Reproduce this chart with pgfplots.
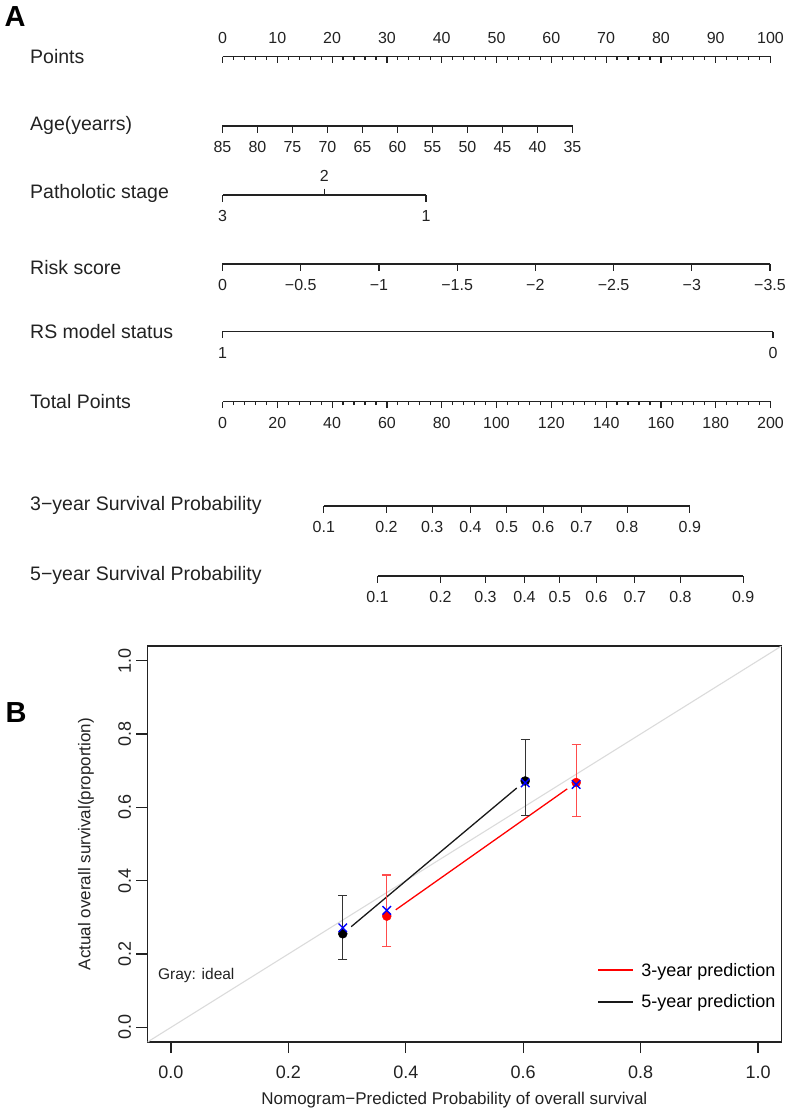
\documentclass[border=0pt]{standalone}
\usepackage{fontspec}
\setmainfont{Liberation Sans}
\usepackage{pgfplots}
\pgfplotsset{compat=1.18}

\definecolor{ink}{HTML}{222222}

\pgfplotsset{
  nomo/.style={
    scale only axis, height=2bp, ymin=0, ymax=1, clip=false,
    axis y line=none, axis x line=bottom,
    axis line style={-, ink, line width=1.3bp},
    every outer x axis line/.append style={-},
    tick style={ink, line width=1.2bp},
    tick align=outside, major tick length=6.5bp, minor tick length=3.5bp,
    xticklabel style={font=\fontsize{16bp}{19bp}\selectfont, text=ink, yshift=-5.5bp},
    anchor=south west,
  },
  nomotop/.style={
    nomo, axis x line=top, anchor=north west,
    every outer x axis line/.append style={-},
    xticklabel style={yshift=14.5bp},
  },
}

\begin{document}
\begin{tikzpicture}
\useasboundingbox (0,0) rectangle (786bp,-1112bp);
\tikzset{rowlab/.style={anchor=west, font=\fontsize{19.5bp}{22bp}\selectfont, text=ink, inner sep=0pt}}

% ---------------- panel A ----------------
\node[anchor=center, font=\fontsize{29bp}{32bp}\selectfont\bfseries] at (15bp,-17bp) {A};

\node[rowlab] at (30bp,-57bp) {Points};
\node[rowlab] at (30bp,-125bp) {Age(yearrs)};
\node[rowlab] at (30bp,-193bp) {Patholotic stage};
\node[rowlab] at (30bp,-268bp) {Risk score};
\node[rowlab] at (30bp,-332bp) {RS model status};
\node[rowlab] at (30bp,-402bp) {Total Points};
\node[rowlab] at (30bp,-505bp) {3−year Survival Probability};
\node[rowlab] at (30bp,-575bp) {5−year Survival Probability};

% Points
\begin{axis}[nomotop, at={(222.5bp,-56.5bp)}, width=548bp,
  xmin=0, xmax=100, tick align=inside,
  xtick={0,10,...,100}, xticklabels={0,10,20,30,40,50,60,70,80,90,100},
  minor xtick={0,2,...,100}]
\end{axis}

% Age
\begin{axis}[nomo, at={(222.5bp,-126bp)}, width=350bp,
  xmin=35, xmax=85, x dir=reverse,
  xtick={35,40,...,85}, xticklabels={35,40,45,50,55,60,65,70,75,80,85}]
\end{axis}

% Pathologic stage
\begin{axis}[nomo, at={(222.5bp,-195bp)}, width=203.5bp,
  xmin=1, xmax=3, x dir=reverse,
  xtick={1,3}, xticklabels={1,3}]
\end{axis}
\begin{axis}[nomotop, at={(222.5bp,-195bp)}, width=203.5bp,
  xmin=1, xmax=3, x dir=reverse, tick align=outside,
  xticklabel style={yshift=-5.5bp},
  xtick={2}, xticklabels={2}]
\end{axis}

% Risk score
\begin{axis}[nomo, at={(222.5bp,-264bp)}, width=547.5bp,
  xmin=-3.5, xmax=0, x dir=reverse,
  xtick={-3.5,-3,...,0},
  xticklabels={−3.5,−3,−2.5,−2,−1.5,−1,−0.5,0}]
\end{axis}

% RS model status
\begin{axis}[nomo, at={(222.5bp,-331.5bp)}, width=550.5bp,
  xmin=0, xmax=1, x dir=reverse,
  xtick={0,1}, xticklabels={0,1}]
\end{axis}

% Total points
\begin{axis}[nomo, at={(222.5bp,-401.5bp)}, width=548bp,
  xmin=0, xmax=200,
  xtick={0,20,...,200}, xticklabels={0,20,40,60,80,100,120,140,160,180,200},
  minor xtick={0,4,...,200}]
\end{axis}

% 3-year survival (positions on the total points scale)
\begin{axis}[nomo, at={(323.8bp,-506bp)}, x=2.74bp,
  xmin=36.97, xmax=170.55,
  xtick={36.97,59.85,76.53,90.51,103.76,117.04,131.02,147.70,170.55},
  xticklabels={0.1,0.2,0.3,0.4,0.5,0.6,0.7,0.8,0.9}]
\end{axis}

% 5-year survival
\begin{axis}[nomo, at={(377.5bp,-576bp)}, x=2.74bp,
  xmin=56.57, xmax=190.04,
  xtick={56.57,79.56,95.99,110.22,123.10,136.50,150.47,167.15,190.04},
  xticklabels={0.1,0.2,0.3,0.4,0.5,0.6,0.7,0.8,0.9}]
\end{axis}

% ---------------- panel B ----------------
\node[anchor=center, font=\fontsize{29bp}{32bp}\selectfont\bfseries] at (16bp,-713bp) {B};

\begin{axis}[
  at={(147.5bp,-1042bp)}, anchor=south west, scale only axis,
  width=634bp, height=396bp,
  xmin=-0.04, xmax=1.04, ymin=-0.04, ymax=1.04,
  axis line style={ink, line width=1.3bp},
  tick style={ink, line width=1.3bp}, tick align=outside, major tick length=11bp,
  xtick pos=lower, ytick pos=left,
  xtick={0,0.2,0.4,0.6,0.8,1}, xticklabels={0.0,0.2,0.4,0.6,0.8,1.0},
  ytick={0,0.2,0.4,0.6,0.8,1}, yticklabels={0.0,0.2,0.4,0.6,0.8,1.0},
  ticklabel style={font=\fontsize{18bp}{21bp}\selectfont, text=ink},
  xticklabel style={yshift=-9bp},
  yticklabel style={rotate=90, anchor=south},
  yticklabel shift=2bp,
  xlabel={Nomogram−Predicted Probability of overall survival},
  ylabel={Actual overall survival(proportion)},
  label style={font=\fontsize{17bp}{20bp}\selectfont, text=ink},
  xlabel style={at={(axis description cs:0.484,-0.1465)}, anchor=center},
  ylabel style={at={(axis description cs:-0.097,0.5)}, anchor=center},
  legend style={at={(0.705,0.1414)}, anchor=west, draw=none, fill=none,
    font=\fontsize{18bp}{21bp}\selectfont, row sep=13bp},
  legend cell align=left,
  legend image code/.code={\draw[#1] (0bp,0bp) -- (35bp,0bp); \path (40bp,0bp);},
]
% ideal line
\addplot[forget plot, black!14, line width=1.1bp] coordinates {(-0.04,-0.04) (1.04,1.04)};

% observed curves (drawn with gaps around the points)
\addplot[forget plot, red, line width=1.3bp, shorten <=11bp, shorten >=11bp]
  coordinates {(0.3676,0.3033) (0.6903,0.6677)};
\addplot[forget plot, black!90, line width=1.3bp, shorten <=11bp, shorten >=11bp]
  coordinates {(0.2926,0.2552) (0.6034,0.6720)};

% 3-year: observed with 95% CI
\addplot[forget plot, only marks, mark=*, mark size=4.5bp, red,
  error bars/.cd, y dir=both, y explicit,
  error bar style={red!70, line width=1.3bp},
  error mark options={rotate=90, red!70, mark size=4.7bp, line width=1.3bp}]
  table[x=x, y=y, y error plus expr=\thisrow{hi}-\thisrow{y},
        y error minus expr=\thisrow{y}-\thisrow{lo}] {
  x      y      lo     hi
  0.3676 0.3033 0.2213 0.4153
  0.6903 0.6677 0.5757 0.7716
};
% 5-year: observed with 95% CI
\addplot[forget plot, only marks, mark=*, mark size=4.5bp, black,
  error bars/.cd, y dir=both, y explicit,
  error bar style={black!80, line width=1.3bp},
  error mark options={rotate=90, black!80, mark size=4.7bp, line width=1.3bp}]
  table[x=x, y=y, y error plus expr=\thisrow{hi}-\thisrow{y},
        y error minus expr=\thisrow{y}-\thisrow{lo}] {
  x      y      lo     hi
  0.2926 0.2552 0.1850 0.3590
  0.6034 0.6720 0.5776 0.7850
};
% bias-corrected estimates
\addplot[forget plot, only marks, mark=x, mark size=6bp, blue, line width=1.4bp]
  coordinates {(0.3676,0.3189) (0.6903,0.6623) (0.2926,0.2716) (0.6034,0.6667)};

\node[anchor=west, font=\fontsize{15.5bp}{18bp}\selectfont, text=ink]
  at (axis cs:-0.028,0.141) {Gray: ideal};

\addlegendimage{red, line width=1.6bp}
\addlegendentry{3-year prediction}
\addlegendimage{black!90, line width=1.6bp}
\addlegendentry{5-year prediction}
\end{axis}
\end{tikzpicture}
\end{document}
